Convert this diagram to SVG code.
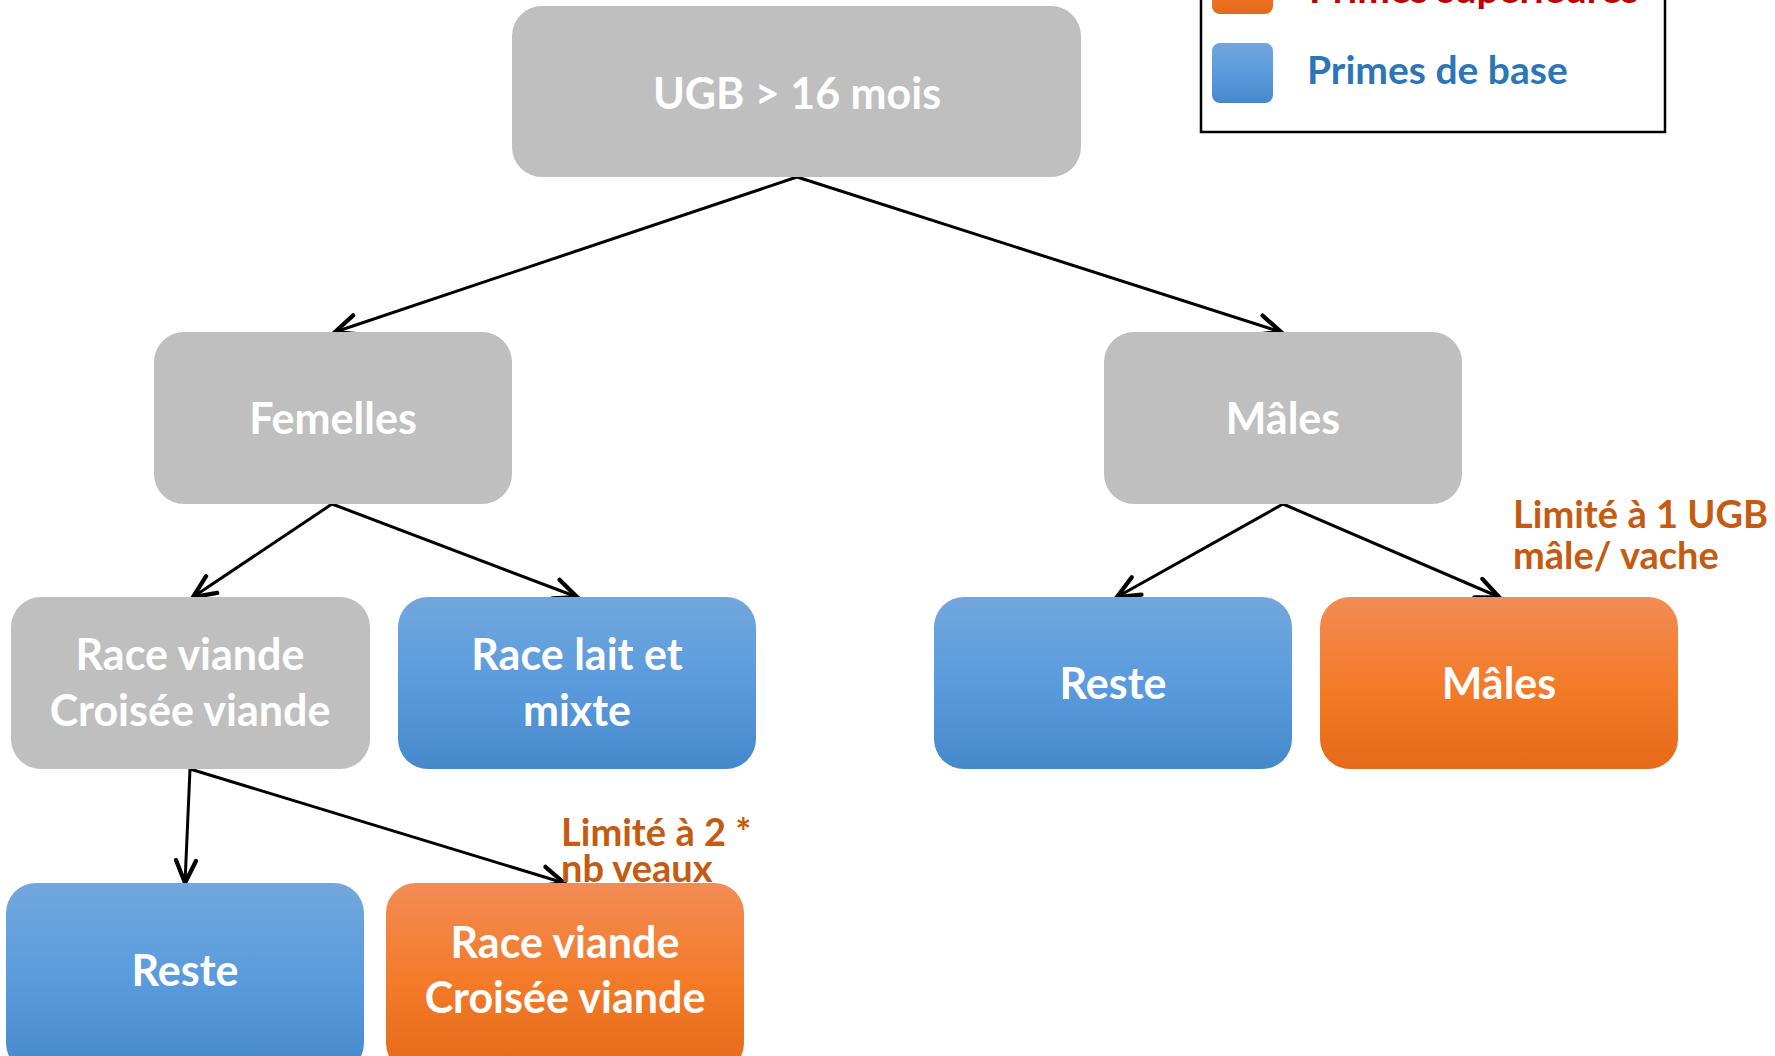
<svg xmlns="http://www.w3.org/2000/svg" width="1775" height="1056" viewBox="0 0 1775 1056">
<defs>
<linearGradient id="gBlue" x1="0" y1="0" x2="0" y2="1">
<stop offset="0" stop-color="#72A7DC"/>
<stop offset="0.5" stop-color="#5A9BDD"/>
<stop offset="1" stop-color="#4689CA"/>
</linearGradient>
<linearGradient id="gOrange" x1="0" y1="0" x2="0" y2="1">
<stop offset="0" stop-color="#F28C55"/>
<stop offset="0.5" stop-color="#F37B2A"/>
<stop offset="1" stop-color="#E56A19"/>
</linearGradient>
<marker id="arr" markerUnits="userSpaceOnUse" markerWidth="30" markerHeight="30" refX="20" refY="10" orient="auto" viewBox="0 0 24 20">
<path d="M2,2 L20,10 L2,18" fill="none" stroke="#000" stroke-width="3.4" stroke-linecap="round" stroke-linejoin="miter"/>
</marker>
</defs>
<style>
.gray{fill:#BFBFBF}
.blue{fill:url(#gBlue)}
.orange{fill:url(#gOrange)}
.lbl{font-family:Lato,"Open Sans","Liberation Sans",sans-serif;font-weight:700;font-size:43px;fill:#FFFFFF;text-anchor:middle}
.note{font-family:Lato,"Open Sans","Liberation Sans",sans-serif;font-weight:700;font-size:38px;fill:#C55A11}
.leg{font-family:Lato,"Open Sans","Liberation Sans",sans-serif;font-weight:700;font-size:39px}
.edge{stroke:#000;stroke-width:3;fill:none;marker-end:url(#arr)}
</style>
<rect width="1775" height="1056" fill="#FFFFFF"/>

<g id="legend">
<rect x="1201" y="-20" width="464" height="152" fill="#FFFFFF" stroke="#000" stroke-width="2.5"/>
<rect x="1212" y="-46" width="61" height="60" rx="8" class="orange"/>
<text x="1309" y="3" class="leg" fill="#C00000">Primes supérieures</text>
<rect x="1212" y="43" width="61" height="60" rx="8" class="blue"/>
<text x="1307" y="84" class="leg" fill="#2E75B6">Primes de base</text>
</g>

<g id="connectors">
<line x1="797" y1="177" x2="335" y2="332" class="edge"/>
<line x1="797" y1="177" x2="1281" y2="332" class="edge"/>
<line x1="332" y1="504" x2="193" y2="597" class="edge"/>
<line x1="332" y1="504" x2="577" y2="597" class="edge"/>
<line x1="1283" y1="504" x2="1117" y2="597" class="edge"/>
<line x1="1283" y1="504" x2="1499" y2="597" class="edge"/>
<line x1="190" y1="769" x2="185" y2="883" class="edge"/>
<line x1="190" y1="769" x2="564" y2="883" class="edge"/>
</g>

<g id="n-ugb">
<rect x="512" y="6" width="569" height="171" rx="30" class="gray"/>
<text x="797" y="109" class="lbl">UGB &gt; 16 mois</text>
</g>
<g id="n-femelles">
<rect x="154" y="332" width="358" height="172" rx="30" class="gray"/>
<text x="333" y="434" class="lbl">Femelles</text>
</g>
<g id="n-males">
<rect x="1104" y="332" width="358" height="172" rx="30" class="gray"/>
<text x="1283" y="434" class="lbl">Mâles</text>
</g>
<g id="n-race-viande">
<rect x="11" y="597" width="359" height="172" rx="30" class="gray"/>
<text x="190" y="670" class="lbl">Race viande</text>
<text x="190" y="726" class="lbl">Croisée viande</text>
</g>
<g id="n-race-lait">
<rect x="398" y="597" width="358" height="172" rx="30" class="blue"/>
<text x="577" y="670" class="lbl">Race lait et</text>
<text x="577" y="726" class="lbl">mixte</text>
</g>
<g id="n-reste-m">
<rect x="934" y="597" width="358" height="172" rx="30" class="blue"/>
<text x="1113" y="699" class="lbl">Reste</text>
</g>
<g id="n-males-sup">
<rect x="1320" y="597" width="358" height="172" rx="30" class="orange"/>
<text x="1499" y="699" class="lbl">Mâles</text>
</g>
<g id="n-reste-f">
<rect x="6" y="883" width="358" height="190" rx="30" class="blue"/>
<text x="185" y="986" class="lbl">Reste</text>
</g>
<g id="n-race-viande-sup">
<rect x="386" y="883" width="358" height="190" rx="30" class="orange"/>
<text x="565" y="958" class="lbl">Race viande</text>
<text x="565" y="1013" class="lbl">Croisée viande</text>
</g>

<g id="notes">
<text x="1513" y="528" class="note">Limité à 1 UGB</text>
<text x="1513" y="569" class="note">mâle/ vache</text>
<text x="561" y="846" class="note">Limité à 2 *</text>
<text x="561" y="882" class="note">nb veaux</text>
</g>
</svg>
